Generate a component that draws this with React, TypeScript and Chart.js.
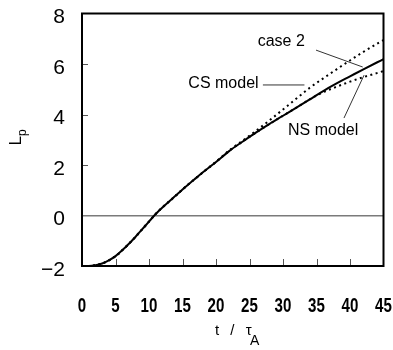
import React, { useEffect, useRef } from "react";
import { Chart, registerables } from "chart.js";

Chart.register(...registerables);

// time axis t / tauA
const times = [0, 1, 2, 3, 4, 5, 6, 7, 8, 9, 10, 11, 12, 13, 14, 15, 16, 17, 18, 19, 20, 22, 24, 26, 28, 30, 32, 34, 36, 38, 40, 42, 44, 45];
// case 2 (solid)
const case2 = [-2.0, -2.0, -1.97, -1.9, -1.78, -1.61, -1.38, -1.12, -0.84, -0.54, -0.24, 0.06, 0.32, 0.55, 0.79, 1.03, 1.26, 1.48, 1.7, 1.91, 2.12, 2.56, 2.93, 3.29, 3.63, 3.95, 4.27, 4.6, 4.93, 5.23, 5.51, 5.79, 6.06, 6.19];
// CS model (dotted)
const csModel = [-2.0, -2.0, -1.97, -1.9, -1.78, -1.61, -1.38, -1.12, -0.84, -0.54, -0.24, 0.06, 0.32, 0.55, 0.79, 1.03, 1.26, 1.48, 1.7, 1.91, 2.13, 2.58, 2.97, 3.36, 3.77, 4.2, 4.63, 5.06, 5.43, 5.79, 6.14, 6.48, 6.8, 6.95];
// NS model (dotted)
const nsModel = [-2.0, -2.0, -1.97, -1.9, -1.78, -1.61, -1.38, -1.12, -0.84, -0.54, -0.24, 0.06, 0.32, 0.55, 0.79, 1.03, 1.26, 1.48, 1.7, 1.91, 2.12, 2.56, 2.93, 3.29, 3.63, 3.95, 4.27, 4.6, 4.88, 5.1, 5.3, 5.48, 5.64, 5.72];

const xTicks = [0, 5, 10, 15, 20, 25, 30, 35, 40, 45];
const yTicks = [-2, 0, 2, 4, 6, 8];

// annotation labels (data coordinates) and leader lines
const labels = [
  { text: "case 2", t: 26.22, L: 6.7 },
  { text: "CS model", t: 15.87, L: 5.03 },
  { text: "NS model", t: 30.75, L: 3.17 },
];
const leaders = [
  { t1: 34.93, L1: 6.55, t2: 41.9, L2: 5.88 },
  { t1: 27.0, L1: 5.17, t2: 33.2, L2: 5.17 },
  { t1: 39.1, L1: 3.86, t2: 42.1, L2: 5.56 },
];

const SANS = "'Liberation Sans', Arial, sans-serif";

const decorPlugin = {
  id: "decor",
  afterDatasetsDraw(chart: any) {
    const { ctx, chartArea: a, scales } = chart;
    const xs = scales.x;
    const ys = scales.y;
    ctx.save();
    // inner tick marks
    ctx.strokeStyle = "#555";
    ctx.lineWidth = 1;
    xTicks.forEach((v) => {
      if (v === 0 || v === 45) return;
      const px = Math.round(xs.getPixelForValue(v)) + 0.5;
      ctx.beginPath();
      ctx.moveTo(px, a.bottom);
      ctx.lineTo(px, a.bottom - 7);
      ctx.stroke();
    });
    yTicks.forEach((v) => {
      if (v === -2 || v === 8 || v === 0) return;
      const py = Math.round(ys.getPixelForValue(v)) + 0.5;
      ctx.beginPath();
      ctx.moveTo(a.left, py);
      ctx.lineTo(a.left + 6, py);
      ctx.stroke();
    });
    // box
    ctx.strokeStyle = "#000";
    ctx.lineWidth = 2;
    ctx.strokeRect(a.left, a.top, a.right - a.left, a.bottom - a.top);

    // condensed x tick labels
    ctx.fillStyle = "#000";
    ctx.font = "bold 21px " + SANS;
    ctx.textAlign = "center";
    ctx.textBaseline = "alphabetic";
    xTicks.forEach((v) => {
      ctx.save();
      ctx.translate(xs.getPixelForValue(v), a.bottom + 45.5);
      ctx.scale(0.72, 1);
      ctx.fillText(String(v), 0, 0);
      ctx.restore();
    });

    // leaders
    ctx.strokeStyle = "#333";
    ctx.lineWidth = 1;
    leaders.forEach((l) => {
      ctx.beginPath();
      ctx.moveTo(xs.getPixelForValue(l.t1), ys.getPixelForValue(l.L1));
      ctx.lineTo(xs.getPixelForValue(l.t2), ys.getPixelForValue(l.L2));
      ctx.stroke();
    });
    // labels
    ctx.font = "16px " + SANS;
    ctx.textAlign = "left";
    labels.forEach((l) => {
      ctx.fillText(l.text, xs.getPixelForValue(l.t), ys.getPixelForValue(l.L));
    });

    // x axis title: t / τA
    ctx.font = "15px " + SANS;
    (ctx as any).letterSpacing = "3.5px";
    const xt = "t / τ";
    const x0 = 215;
    ctx.fillText(xt, x0, 335);
    const w = ctx.measureText(xt).width;
    (ctx as any).letterSpacing = "0px";
    ctx.font = "14px " + SANS;
    ctx.fillText("A", x0 + w - 5, 345);

    // y axis title: Lp (rotated)
    ctx.save();
    ctx.translate(21, 145.5);
    ctx.rotate(-Math.PI / 2);
    ctx.font = "17px " + SANS;
    ctx.fillText("L", 0, 0);
    const lw = ctx.measureText("L").width;
    ctx.font = "12px " + SANS;
    ctx.fillText("p", lw, 5);
    ctx.restore();

    ctx.restore();
  },
};

export default function App() {
  const ref = useRef<HTMLCanvasElement | null>(null);
  useEffect(() => {
    if (!ref.current) return;
    const points = (ys: number[]) => times.map((t, i) => ({ x: t, y: ys[i] }));
    const chart = new Chart(ref.current, {
      type: "line",
      data: {
        datasets: [
          {
            label: "CS model",
            data: points(csModel),
            borderColor: "#000",
            borderWidth: 2,
            borderDash: [2, 3.5],
            pointRadius: 0,
            cubicInterpolationMode: "monotone",
          },
          {
            label: "NS model",
            data: points(nsModel),
            borderColor: "#000",
            borderWidth: 2,
            borderDash: [2, 3.5],
            pointRadius: 0,
            cubicInterpolationMode: "monotone",
          },
          {
            label: "case 2",
            data: points(case2),
            borderColor: "#000",
            borderWidth: 2,
            pointRadius: 0,
            cubicInterpolationMode: "monotone",
          },
        ],
      },
      options: {
        responsive: false,
        animation: false,
        events: [],
        layout: { padding: { top: 13.5, right: 9.5, left: 0, bottom: 0 } },
        plugins: { legend: { display: false }, tooltip: { enabled: false } },
        scales: {
          x: {
            type: "linear",
            min: 0,
            max: 45,
            afterFit: (s: any) => {
              s.height = 84;
              s.paddingLeft = 0;
              s.paddingRight = 0;
              s.paddingTop = 0;
              s.paddingBottom = 0;
            },
            afterBuildTicks: (s: any) => {
              s.ticks = xTicks.map((v) => ({ value: v }));
            },
            ticks: { display: false },
            grid: { display: false, drawTicks: false },
            border: { display: false },
          },
          y: {
            type: "linear",
            min: -2,
            max: 8,
            afterFit: (s: any) => {
              s.width = 82;
              s.paddingLeft = 0;
              s.paddingRight = 0;
              s.paddingTop = 0;
              s.paddingBottom = 0;
            },
            afterBuildTicks: (s: any) => {
              s.ticks = yTicks.map((v) => ({ value: v }));
            },
            ticks: {
              color: "#000",
              padding: 17,
              labelOffset: 4,
              autoSkip: false,
              font: { family: SANS, size: 21 },
              callback: (v: any) => (Number(v) < 0 ? "\u2212" + Math.abs(Number(v)) : String(v)),
            },
            grid: {
              drawTicks: false,
              lineWidth: 1.5,
              color: (c: any) => (c.tick && c.tick.value === 0 ? "#7a7a7a" : "rgba(0,0,0,0)"),
            },
            border: { display: false },
          },
        },
      },
      plugins: [decorPlugin],
    } as any);
    return () => chart.destroy();
  }, []);
  return (
    <div style={{ position: "fixed", left: 0, top: 0, width: 393, height: 350, background: "#fff" }}>
      <canvas ref={ref} width={393} height={350} />
    </div>
  );
}
